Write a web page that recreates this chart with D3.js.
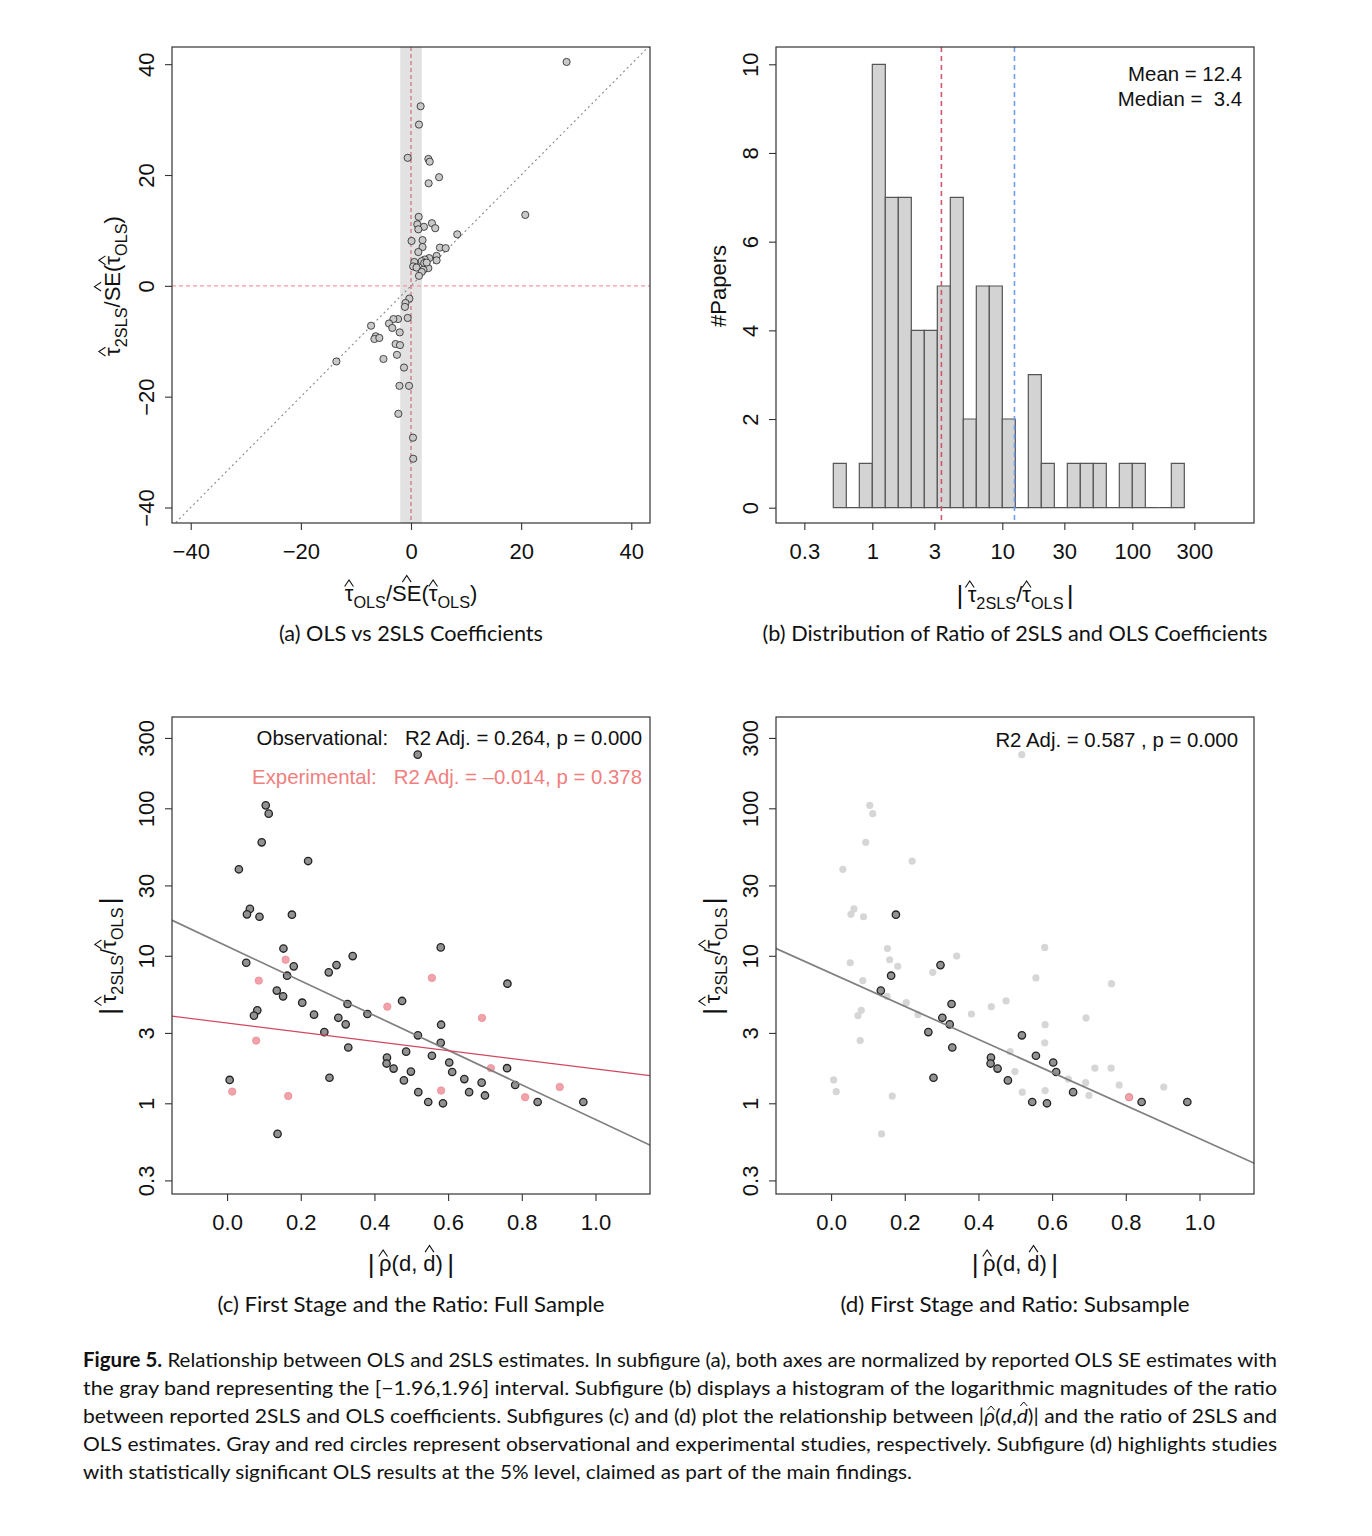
<!DOCTYPE html>
<html><head><meta charset="utf-8">
<script src="https://cdn.jsdelivr.net/npm/d3@7"></script>
<style>body{margin:0;background:#fff} svg text{white-space:pre}</style>
</head><body>
<svg id="fig" width="1372" height="1536"></svg>
<script>
// ---------------- DATA ----------------
// Panel (a): OLS z-stat vs 2SLS z-stat (both normalised by OLS SE)
const olsZ  = [28.25,1.75,1.45,-0.6,3.15,3.4,5.1,3.2,20.75,1.4,1.15,3.8,2.35,1.33,4.4,8.4,0.1,2.1,2.1,1.33,5.25,6.3,4.65,4.65,3.3,2.5,1.95,0.6,0.4,1.0,2.4,3.15,2.25,1.95,1.45,2.85,-0.3,-1.0,-1.1,-0.6,-2.35,-3.2,-4.0,-7.25,-3.4,-2.05,-6.4,-6.65,-5.75,-2.8,-2.0,-2.55,-5.0,-13.55,-1.27,-2.1,-0.36,-2.3,0.36,0.4];
const tslsZ = [40.4,32.4,29.1,23.1,22.9,22.4,19.6,18.5,12.8,12.45,11.1,11.3,10.65,10.2,10.4,9.3,8.1,8.25,7.0,6.1,6.9,6.8,5.4,4.6,5.0,4.75,4.45,4.3,3.5,3.3,4.1,3.2,2.9,2.5,1.8,4.2,-2.3,-3.1,-3.8,-5.8,-6.0,-6.0,-6.8,-7.2,-7.6,-8.4,-9.1,-9.6,-9.4,-10.5,-10.7,-12.45,-13.2,-13.65,-14.75,-18.05,-18.05,-23.1,-27.4,-31.2];
const bandHalfWidth = 1.96;
const axisTicksA = [-40,-20,0,20,40];

// Panel (b): histogram of log10 |tau2SLS / tauOLS|
const histLogBreaks = [-0.3,-0.2,-0.1,0.0,0.1,0.2,0.3,0.4,0.5,0.6,0.7,0.8,0.9,1.0,1.1,1.2,1.3,1.4,1.5,1.6,1.7,1.8,1.9,2.0,2.1,2.2,2.3,2.4];
const histCounts    = [1,0,1,10,7,7,4,4,5,7,2,5,5,2,0,3,1,0,1,1,1,0,1,1,0,0,1];
const ratioMean = 12.4, ratioMedian = 3.4;
const ticksBx = [0.3,1,3,10,30,100,300];
const ticksBy = [0,2,4,6,8,10];

// Panels (c)/(d): |rho(d, dhat)| vs |tau2SLS/tauOLS|
const rho   = [0.5175,0.105,0.113,0.094,0.220,0.032,0.062,0.054,0.088,0.176,0.153,0.580,0.052,0.341,0.297,0.181,0.276,0.163,0.761,0.135,0.152,0.475,0.204,0.327,0.082,0.073,0.236,0.381,0.302,0.322,0.581,0.264,0.518,0.580,0.329,0.486,0.556,0.434,0.433,0.452,0.603,0.760,0.611,0.499,0.007,0.278,0.644,0.691,0.480,0.782,0.657,0.519,0.700,0.546,0.586,0.843,0.967,0.137,
               0.159,0.086,0.556,0.435,0.692,0.079,0.716,0.581,0.903,0.014,0.166,0.809];
const ratio = [231,104.7,92,58.8,43.9,38.6,20.8,19.1,18.4,19.0,11.2,11.4,8.97,9.96,8.65,8.48,7.72,7.33,6.47,5.81,5.31,4.94,4.81,4.71,4.27,3.93,3.99,4.03,3.80,3.43,3.41,3.04,2.89,2.57,2.39,2.24,2.10,2.04,1.86,1.72,1.89,1.73,1.63,1.64,1.44,1.49,1.46,1.38,1.43,1.33,1.19,1.19,1.13,1.02,1.0,1.02,1.02,0.62,
               9.4,6.79,7.08,4.52,3.79,2.66,1.73,1.22,1.29,1.20,1.12,1.10];
const studyType = ['obs','obs','obs','obs','obs','obs','obs','obs','obs','obs','obs','obs','obs','obs','obs','obs','obs','obs','obs','obs','obs','obs','obs','obs','obs','obs','obs','obs','obs','obs','obs','obs','obs','obs','obs','obs','obs','obs','obs','obs','obs','obs','obs','obs','obs','obs','obs','obs','obs','obs','obs','obs','obs','obs','obs','obs','obs','obs',
                   'exp','exp','exp','exp','exp','exp','exp','exp','exp','exp','exp','exp'];
const olsSignificant = [0,0,0,0,0,0,0,0,0,1,0,0,0,0,1,0,0,1,0,1,0,0,0,1,0,0,0,0,1,1,0,1,1,0,1,0,1,1,1,1,1,0,1,0,0,1,0,0,1,0,1,0,0,1,1,1,1,0,
                        0,0,0,0,0,0,0,0,0,0,0,1];
// fitted lines: log10(ratio) = intercept + slope * rho
const fitObs = {intercept: 1.065, slope: -1.175};
const fitExp = {intercept: 0.544, slope: -0.311};
const fitSub = {intercept: 0.882, slope: -1.122};
const ticksCx = [0.0,0.2,0.4,0.6,0.8,1.0];
const ticksCy = [0.3,1,3,10,30,100,300];
const statObs = 'Observational:   R2 Adj. = 0.264, p = 0.000';
const statExp = 'Experimental:   R2 Adj. = \u20130.014, p = 0.378';
const statSub = 'R2 Adj. = 0.587 , p = 0.000';

const panelTitles = ['(a) OLS vs 2SLS Coefficients','(b) Distribution of Ratio of 2SLS and OLS Coefficients','(c) First Stage and the Ratio: Full Sample','(d) First Stage and Ratio: Subsample'];

// ---------------- DRAWING ----------------
const AX_FONT = "'Liberation Sans', Arial, Helvetica, sans-serif";
const CAP_FONT = "Lato, 'Open Sans', sans-serif";
const svg = d3.select('#fig');
svg.append('rect').attr('width',1372).attr('height',1536).attr('fill','#fff');
const defs = svg.append('defs');
const TICK_FS = 22, LAB_FS = 22, ANN_FS = 20.4;
const TS = '\u2009';

function clip(id, x0, y0, x1, y1){
  defs.append('clipPath').attr('id',id).append('rect').attr('x',x0).attr('y',y0).attr('width',x1-x0).attr('height',y1-y0);
  return `url(#${id})`;
}
function box(x0,y0,x1,y1){
  svg.append('rect').attr('x',x0).attr('y',y0).attr('width',x1-x0).attr('height',y1-y0)
    .attr('fill','none').attr('stroke','#333').attr('stroke-width',1.2);
}
function xAxis(scale, y, ticks, fmt){
  const ax = d3.axisBottom(scale).tickValues(ticks).tickFormat(fmt).tickSize(7).tickSizeOuter(0);
  const a = svg.append('g').attr('transform',`translate(0,${y})`).call(ax);
  a.select('.domain').remove();
  a.attr('font-family',AX_FONT).attr('font-size',TICK_FS);
  a.selectAll('line').attr('stroke','#333').attr('stroke-width',1.1);
  a.selectAll('text').attr('y',36).attr('dy',0).attr('fill','#111');
}
function yAxis(scale, x, ticks, fmt){
  const ax = d3.axisLeft(scale).tickValues(ticks).tickFormat(fmt).tickSize(7).tickSizeOuter(0);
  const a = svg.append('g').attr('transform',`translate(${x},0)`).call(ax);
  a.select('.domain').remove();
  a.attr('font-family',AX_FONT).attr('font-size',TICK_FS);
  a.selectAll('line').attr('stroke','#333').attr('stroke-width',1.1);
  a.selectAll('text').attr('x',0).attr('dy',0).attr('y',-18).attr('transform','rotate(-90)')
    .attr('text-anchor','middle').attr('fill','#111');
}
const minus = v => (v<0 ? '\u2212' + Math.abs(v) : String(v));

// math label with R-style hats
function mathLabel(x, y, rot, segs, fs){
  const g = svg.append('g').attr('transform',`translate(${x},${y})` + (rot ? ` rotate(${rot})` : ''));
  const t = g.append('text').attr('x',0).attr('y',0).attr('text-anchor','middle')
    .attr('font-family',AX_FONT).attr('font-size',fs).attr('fill','#111');
  let shift = 0, idx = 0; const hats = [];
  segs.forEach(s => {
    const target = s.sub ? fs*0.3 : (s.bar ? fs*0.08 : 0);
    const sp = t.append('tspan').text(s.t).attr('dy', target - shift);
    if (s.sub) sp.attr('font-size', fs*0.74);
    if (s.bar) sp.attr('font-size', fs*1.2);
    shift = target;
    if (s.hat) hats.push({i0: idx, i1: idx + s.t.length - 1, kind: s.hat});
    idx += s.t.length;
  });
  const node = t.node();
  hats.forEach(h => {
    const a = node.getStartPositionOfChar(h.i0), b = node.getEndPositionOfChar(h.i1);
    const cx = (a.x + b.x)/2, base = a.y;
    const lo = h.kind === 'x' ? 0.66 : 0.86, hi = lo + 0.3, hw = 0.2;
    g.append('path').attr('d',`M${cx-hw*fs},${base-lo*fs}L${cx},${base-hi*fs}L${cx+hw*fs},${base-lo*fs}`)
      .attr('fill','none').attr('stroke','#111').attr('stroke-width',1.1);
  });
}
function title(txt, cx, y, len){
  svg.append('text').attr('x',cx).attr('y',y).attr('text-anchor','middle').attr('font-family',CAP_FONT)
    .attr('font-size',21).attr('fill','#111').attr('textLength',len).attr('lengthAdjust','spacingAndGlyphs').text(txt);
}

// ======== Panel (a) ========
(function(){
  const X0=172, X1=650, Y0=47, Y1=523;
  const x = d3.scaleLinear().domain([-43.4,43.4]).range([X0,X1]);
  const y = d3.scaleLinear().domain([-42.8,43.1]).range([Y1,Y0]);
  const cp = clip('clipA',X0,Y0,X1,Y1);
  const g = svg.append('g').attr('clip-path',cp);
  g.append('rect').attr('x',x(-bandHalfWidth)).attr('width',x(bandHalfWidth)-x(-bandHalfWidth))
    .attr('y',Y0).attr('height',Y1-Y0).attr('fill','#e2e2e2');
  g.append('line').attr('x1',x(-60)).attr('y1',y(-60)).attr('x2',x(60)).attr('y2',y(60))
    .attr('stroke','#888').attr('stroke-width',1.1).attr('stroke-dasharray','2,3');
  g.append('line').attr('x1',X0).attr('x2',X1).attr('y1',y(0)).attr('y2',y(0))
    .attr('stroke','#ee9aa5').attr('stroke-width',1.1).attr('stroke-dasharray','4,3');
  g.append('line').attr('x1',x(0)).attr('x2',x(0)).attr('y1',Y0).attr('y2',Y1)
    .attr('stroke','#c8566a').attr('stroke-width',1).attr('stroke-dasharray','4,3');
  g.selectAll('circle.pa').data(olsZ).join('circle').attr('class','pa')
    .attr('cx',(d)=>x(d)).attr('cy',(d,i)=>y(tslsZ[i])).attr('r',3.6)
    .attr('fill','#c9c9c9').attr('stroke','#222').attr('stroke-width',0.8);
  box(X0,Y0,X1,Y1);
  xAxis(x, Y1, axisTicksA, minus);
  yAxis(y, X0, axisTicksA, minus);
  mathLabel(411, 601, 0, [{t:'\u03c4',hat:'x'},{t:'OLS',sub:true},{t:'/'},{t:'SE',hat:'c'},{t:'('},{t:'\u03c4',hat:'x'},{t:'OLS',sub:true},{t:')'}], LAB_FS);
  mathLabel(120, 286, -90, [{t:'\u03c4',hat:'x'},{t:'2SLS',sub:true},{t:'/'},{t:'SE',hat:'c'},{t:'('},{t:'\u03c4',hat:'x'},{t:'OLS',sub:true},{t:')'}], LAB_FS);
  title(panelTitles[0], 411, 641, 264);
})();

// ======== Panel (b) ========
(function(){
  const X0=776, X1=1254, Y0=47, Y1=523;
  const x = d3.scaleLog().domain([Math.pow(10,-0.7408), Math.pow(10,2.936)]).range([X0,X1]);
  const y = d3.scaleLinear().domain([-0.345,10.39]).range([Y1,Y0]);
  const bars = histCounts.map((c,i)=>({lo:Math.pow(10,histLogBreaks[i]), hi:Math.pow(10,histLogBreaks[i+1]), c}));
  svg.append('g').selectAll('path').data(bars).join('path')
    .attr('d',d=>`M${x(d.lo)},${y(0)}V${y(d.c)}H${x(d.hi)}V${y(0)}Z`)
    .attr('fill','#d3d3d3').attr('stroke','#555').attr('stroke-width',1.2);
  svg.append('line').attr('x1',x(ratioMedian)).attr('x2',x(ratioMedian)).attr('y1',Y0).attr('y2',Y1)
    .attr('stroke','#d0566c').attr('stroke-width',1.6).attr('stroke-dasharray','5,4');
  svg.append('line').attr('x1',x(ratioMean)).attr('x2',x(ratioMean)).attr('y1',Y0).attr('y2',Y1)
    .attr('stroke','#6c9ff0').attr('stroke-width',1.6).attr('stroke-dasharray','5,4');
  box(X0,Y0,X1,Y1);
  xAxis(x, Y1, ticksBx, d=>String(d));
  yAxis(y, X0, ticksBy, d=>String(d));
  const ann = svg.append('g').attr('font-family',AX_FONT).attr('font-size',ANN_FS).attr('fill','#111').attr('text-anchor','end');
  ann.append('text').attr('x',1242).attr('y',81).text('Mean = ' + ratioMean.toFixed(1));
  ann.append('text').attr('x',1242).attr('y',106).text('Median =  ' + ratioMedian.toFixed(1));
  svg.append('text').attr('transform','translate(726,286) rotate(-90)').attr('text-anchor','middle')
    .attr('font-family',AX_FONT).attr('font-size',LAB_FS).attr('fill','#111').text('#Papers');
  mathLabel(1015, 602, 0, [{t:'|',bar:true},{t:TS+'\u03c4',hat:'x'},{t:'2SLS',sub:true},{t:'/'},{t:'\u03c4',hat:'x'},{t:'OLS'+TS,sub:true},{t:'|',bar:true}], LAB_FS);
  title(panelTitles[1], 1015, 641, 505);
})();

// ======== Panels (c) and (d) ========
function scatterPanel(X0, subsample){
  const X1=X0+478, Y0=717, Y1=1194;
  const x = d3.scaleLinear().domain([-0.1495,1.148]).range([X0,X1]);
  const y = d3.scaleLog().domain([Math.pow(10,-0.615), Math.pow(10,2.619)]).range([Y1,Y0]);
  const cp = clip(subsample?'clipD':'clipC',X0,Y0,X1,Y1);
  const g = svg.append('g').attr('clip-path',cp);
  const pts = rho.map((r,i)=>({r, v:ratio[i], type:studyType[i], sig:olsSignificant[i]===1}));
  const lineFor = f => g.append('line').attr('x1',x(-0.2)).attr('y1',y(Math.pow(10,f.intercept+f.slope*-0.2)))
      .attr('x2',x(1.2)).attr('y2',y(Math.pow(10,f.intercept+f.slope*1.2)));
  if (!subsample){
    g.selectAll('circle.o').data(pts.filter(p=>p.type==='obs')).join('circle').attr('class','o')
      .attr('cx',d=>x(d.r)).attr('cy',d=>y(d.v)).attr('r',3.7)
      .attr('fill','#929292').attr('stroke','#222').attr('stroke-width',1.3);
    g.selectAll('circle.e').data(pts.filter(p=>p.type==='exp')).join('circle').attr('class','e')
      .attr('cx',d=>x(d.r)).attr('cy',d=>y(d.v)).attr('r',3.7)
      .attr('fill','#f2a3aa').attr('stroke','#e88f99').attr('stroke-width',0.8);
    lineFor(fitObs).attr('stroke','#7f7f7f').attr('stroke-width',1.7);
    lineFor(fitExp).attr('stroke','#d0475e').attr('stroke-width',1.3);
  } else {
    g.selectAll('circle.n').data(pts.filter(p=>!p.sig)).join('circle').attr('class','n')
      .attr('cx',d=>x(d.r)).attr('cy',d=>y(d.v)).attr('r',3.6).attr('fill','#d6d6d6');
    g.selectAll('circle.s').data(pts.filter(p=>p.sig)).join('circle').attr('class','s')
      .attr('cx',d=>x(d.r)).attr('cy',d=>y(d.v)).attr('r',3.7)
      .attr('fill',d=>d.type==='exp'?'#f2a3aa':'#929292')
      .attr('stroke',d=>d.type==='exp'?'#e07f8b':'#222').attr('stroke-width',d=>d.type==='exp'?0.9:1.3);
    lineFor(fitSub).attr('stroke','#7f7f7f').attr('stroke-width',1.7);
  }
  box(X0,Y0,X1,Y1);
  xAxis(x, Y1, ticksCx, d=>d.toFixed(1));
  yAxis(y, X0, ticksCy, d=>String(d));
  const ann = svg.append('g').attr('font-family',AX_FONT).attr('font-size',ANN_FS).attr('text-anchor','end');
  if (!subsample){
    ann.append('text').attr('x',X0+470).attr('y',745).attr('fill','#111').text(statObs);
    ann.append('text').attr('x',X0+470).attr('y',784).attr('fill','#f08080').text(statExp);
  } else {
    ann.append('text').attr('x',X0+462).attr('y',747).attr('fill','#111').text(statSub);
  }
  mathLabel(X0+239, 1271, 0, [{t:'|',bar:true},{t:TS+'\u03c1',hat:'x'},{t:'(d, '},{t:'d',hat:'c'},{t:')'+TS},{t:'|',bar:true}], LAB_FS);
  mathLabel(X0-56, 956, -90, [{t:'|',bar:true},{t:TS+'\u03c4',hat:'x'},{t:'2SLS',sub:true},{t:'/'},{t:'\u03c4',hat:'x'},{t:'OLS'+TS,sub:true},{t:'|',bar:true}], LAB_FS);
}
scatterPanel(172, false);
scatterPanel(776, true);
title(panelTitles[2], 411, 1312, 387);
title(panelTitles[3], 1015, 1312, 349);

// ======== Caption ========
const captionLines = [
  [{t:'Figure 5.',b:true},{t:' Relationship between OLS and 2SLS estimates. In subfigure (a), both axes are normalized by reported OLS SE estimates with'}],
  [{t:'the gray band representing the [\u22121.96,1.96] interval. Subfigure (b) displays a histogram of the logarithmic magnitudes of the ratio'}],
  [{t:'between reported 2SLS and OLS coefficients. Subfigures (c) and (d) plot the relationship between |'},{t:'\u03c1',i:true,hat:true},{t:'('},{t:'d',i:true},{t:','},{t:'d',i:true,hat:true},{t:')| and the ratio of 2SLS and'}],
  [{t:'OLS estimates. Gray and red circles represent observational and experimental studies, respectively. Subfigure (d) highlights studies'}],
  [{t:'with statistically significant OLS results at the 5% level, claimed as part of the main findings.'}]
];
const captionWidths = [1194,1194,1194,1194,829];
captionLines.forEach((segs, li) => {
  const base = 1367 + li*28;
  const t = svg.append('text').attr('x',83).attr('y',base).attr('font-family',CAP_FONT).attr('font-size',20)
    .attr('fill','#111').attr('textLength',captionWidths[li]).attr('lengthAdjust','spacingAndGlyphs');
  let idx = 0; const hats = [];
  segs.forEach(s => {
    const sp = t.append('tspan').text(s.t);
    if (s.b) sp.attr('font-weight','bold');
    if (s.i) sp.attr('font-style','italic');
    if (s.hat) hats.push(idx);
    idx += s.t.length;
  });
  const node = t.node();
  hats.forEach(i => {
    const a = node.getStartPositionOfChar(i), b = node.getEndPositionOfChar(i);
    const cx = (a.x+b.x)/2 + 1.5;
    const isD = node.textContent[i] === 'd';
    const lo = isD ? 17 : 13, hi = lo + 4;
    svg.append('path').attr('d',`M${cx-3.5},${base-lo}L${cx},${base-hi}L${cx+3.5},${base-lo}`)
      .attr('fill','none').attr('stroke','#111').attr('stroke-width',1);
  });
});
</script>
</body></html>
